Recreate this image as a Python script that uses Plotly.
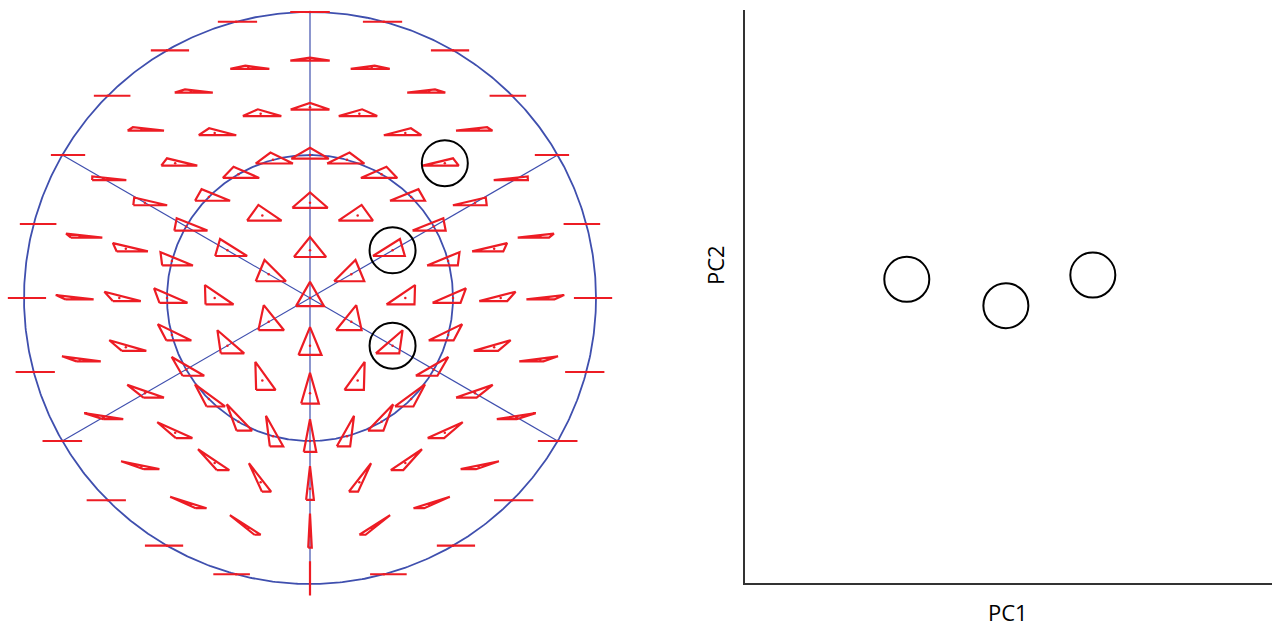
import numpy as np
import plotly.graph_objects as go

W, H = 1272, 628

# --- Kendall shape space of triangles (disk view) ---------------------------
# grid of sample shapes: ring radius (fraction of disk radius), count, start angle
ring_radius = [0.0, 1 / 6, 2 / 6, 3 / 6, 4 / 6, 5 / 6, 1.0]
ring_count = [1, 6, 12, 24, 24, 24, 24]
ring_start_deg = [90, 30, 0, 0, 0, 0, 0]

# shapes picked out with black rings: (ring index, angle in degrees)
highlight_ring = [4, 2, 2]
highlight_angle = [45, 30, 330]

inner_circle_radius = 0.5
diameter_angles = [90, 30, 150]   # isosceles meridians

# --- PCA scatter -------------------------------------------------------------
pc1 = [0.307, 0.495, 0.660]
pc2 = [0.530, 0.484, 0.5375]

# pixel geometry of the disk
CX, CY, R = 310.0, 298.0, 286.0
TRI_SIZE = 28.0 / R           # centroid size of every drawn triangle
RED = "#ed1c24"
BLUE = "#3f4fae"


def triangle(P, size):
    """Vertices of the triangle whose shape sits at disk point P (complex)."""
    s = -1j * np.conj(P)
    w1 = 1 - s
    w2 = 1j * (1 + s)
    if abs(w1) > 1e-9:
        rot = np.conj(w1) / abs(w1)
        w1, w2 = w1 * rot, w2 * rot
    n = np.sqrt(abs(w1) ** 2 + abs(w2) ** 2)
    w1, w2 = w1 / n * size, w2 / n * size
    z3 = np.sqrt(6) * w2 / 3
    z1 = (-z3 - np.sqrt(2) * w1) / 2
    z2 = (-z3 + np.sqrt(2) * w1) / 2
    return [P + z1, P + z2, P + z3, P + z1]


def grid_point(k, ang_deg):
    a = np.deg2rad(ang_deg)
    return ring_radius[k] * complex(np.cos(a), np.sin(a))


tx, ty, cx_, cy_ = [], [], [], []
for k, (n, a0) in enumerate(zip(ring_count, ring_start_deg)):
    for j in range(n):
        P = grid_point(k, a0 + j * 360.0 / n)
        verts = triangle(P, TRI_SIZE)
        tx += [v.real for v in verts] + [None]
        ty += [v.imag for v in verts] + [None]
        cx_.append(P.real)
        cy_.append(P.imag)

fig = go.Figure()

theta = np.linspace(0, 2 * np.pi, 721)
fig.add_trace(go.Scatter(x=np.cos(theta), y=np.sin(theta), mode="lines",
                         line=dict(color=BLUE, width=1.8), hoverinfo="skip"))
fig.add_trace(go.Scatter(x=inner_circle_radius * np.cos(theta),
                         y=inner_circle_radius * np.sin(theta), mode="lines",
                         line=dict(color=BLUE, width=1.8), hoverinfo="skip"))
dx, dy = [], []
for a in diameter_angles:
    r = np.deg2rad(a)
    dx += [np.cos(r), -np.cos(r), None]
    dy += [np.sin(r), -np.sin(r), None]
fig.add_trace(go.Scatter(x=dx, y=dy, mode="lines",
                         line=dict(color=BLUE, width=1.2), hoverinfo="skip"))

fig.add_trace(go.Scatter(x=tx, y=ty, mode="lines",
                         line=dict(color=RED, width=2.2), hoverinfo="skip"))
fig.add_trace(go.Scatter(x=cx_, y=cy_, mode="markers",
                         marker=dict(color=RED, size=2.5), hoverinfo="skip"))

hp = [grid_point(k, a) for k, a in zip(highlight_ring, highlight_angle)]
fig.add_trace(go.Scatter(x=[p.real for p in hp], y=[p.imag for p in hp],
                         mode="markers",
                         marker=dict(size=46, color="rgba(0,0,0,0)",
                                     line=dict(color="black", width=2)),
                         hoverinfo="skip"))

fig.add_trace(go.Scatter(x=pc1, y=pc2, mode="markers", xaxis="x2", yaxis="y2",
                         marker=dict(size=45, color="rgba(0,0,0,0)",
                                     line=dict(color="black", width=2)),
                         hoverinfo="skip"))

hidden = dict(visible=False, showgrid=False, zeroline=False, fixedrange=True)
x2_left, y2_bottom, y2_top = 745.0, 583.0, 10.0

fig.update_layout(
    width=W, height=H, margin=dict(l=0, r=0, t=0, b=0),
    paper_bgcolor="white", plot_bgcolor="white", showlegend=False,
    xaxis=dict(domain=[0, 620 / W], range=[-CX / R, (620 - CX) / R], **hidden),
    yaxis=dict(domain=[0, 1], range=[(CY - H) / R, CY / R], **hidden),
    xaxis2=dict(domain=[x2_left / W, 1], range=[0, 1], anchor="y2",
                showline=True, linecolor="#333333", linewidth=2,
                showticklabels=False, ticks="", showgrid=False, zeroline=False),
    yaxis2=dict(domain=[1 - y2_bottom / H, 1 - y2_top / H], range=[0, 1],
                anchor="x2", showline=True, linecolor="#333333", linewidth=2,
                showticklabels=False, ticks="", showgrid=False, zeroline=False),
    annotations=[
        dict(text="PC1", xref="paper", yref="paper", x=1008 / W, y=1 - 612 / H,
             xanchor="center", yanchor="middle", showarrow=False,
             font=dict(family="Open Sans", size=22, color="black")),
        dict(text="PC2", xref="paper", yref="paper", x=715 / W, y=1 - 265 / H,
             xanchor="center", yanchor="middle", showarrow=False, textangle=-90,
             font=dict(family="Open Sans", size=22, color="black")),
    ],
)

fig.write_html("out.html")
